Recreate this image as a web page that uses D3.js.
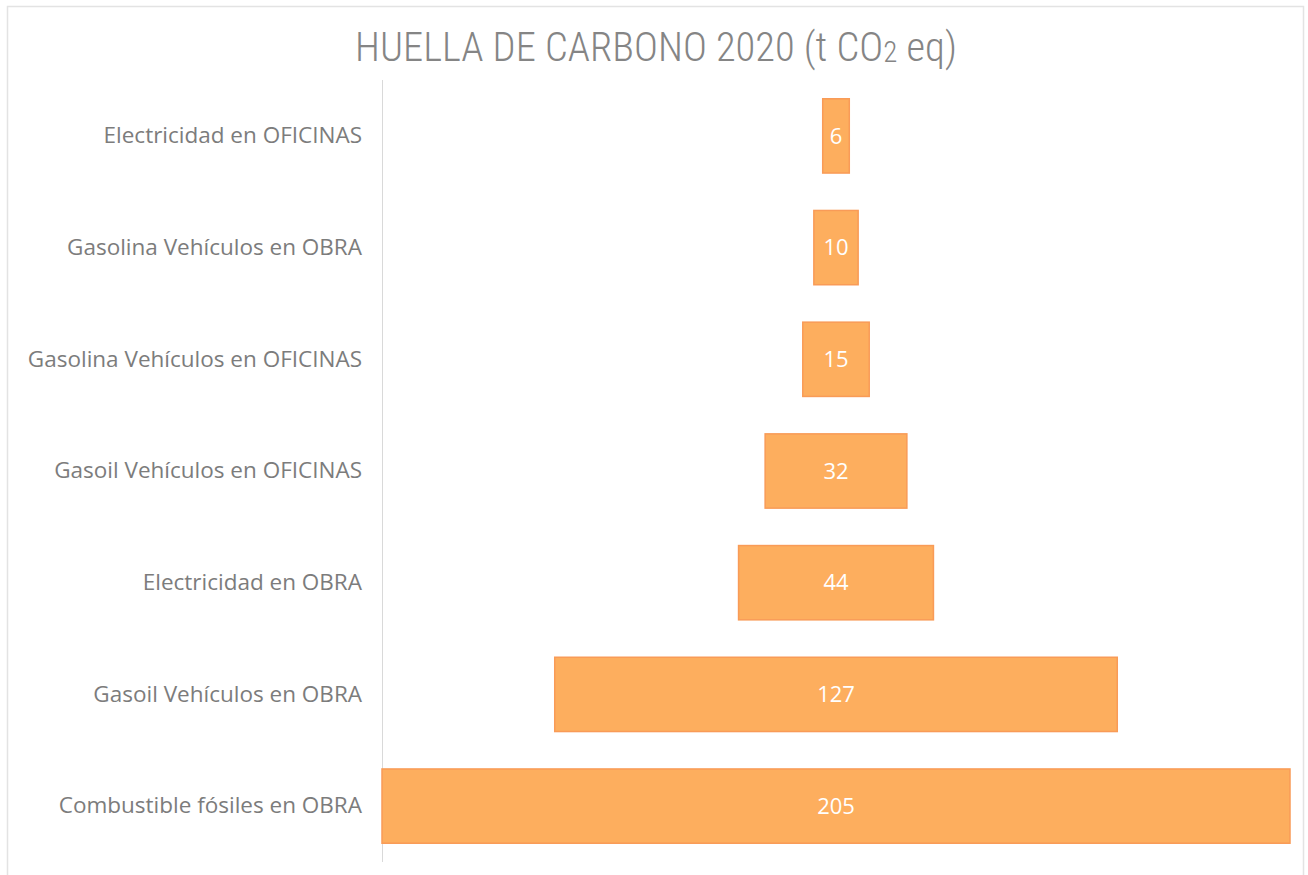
<!DOCTYPE html>
<html>
<head>
<meta charset="utf-8">
<script src="https://cdn.jsdelivr.net/npm/d3@7"></script>
<style>
  body { margin: 0; background: #fff; }
  svg { display: block; }
</style>
</head>
<body>
<div id="chart"></div>
<script>
var svgWidth = 1308;
var svgHeight = 875;

// data
var categories = [
  "Electricidad en OFICINAS",
  "Gasolina Vehículos en OBRA",
  "Gasolina Vehículos en OFICINAS",
  "Gasoil Vehículos en OFICINAS",
  "Electricidad en OBRA",
  "Gasoil Vehículos en OBRA",
  "Combustible fósiles en OBRA"
];
var values = [6, 10, 15, 32, 44, 127, 205];

var margin = { top: 80, right: 18, bottom: 13, left: 382 };
var width = svgWidth - margin.left - margin.right;
var height = svgHeight - margin.top - margin.bottom;

var svg = d3.select("#chart")
  .append("svg")
  .attr("width", svgWidth)
  .attr("height", svgHeight);

// chart frame
svg.append("rect")
  .attr("x", 7.5)
  .attr("y", 6.5)
  .attr("width", 1296)
  .attr("height", 880)
  .attr("fill", "#fff")
  .attr("stroke", "#e3e3e3")
  .attr("stroke-width", 1.5);

// title
var title = svg.append("text")
  .attr("x", 656)
  .attr("y", 61)
  .attr("text-anchor", "middle")
  .attr("fill", "#858585")
  .style("font-family", "Roboto, sans-serif")
  .style("font-size", "40.5px")
  .style("font-weight", "300")
  .style("font-stretch", "condensed");
title.append("tspan").text("HUELLA DE CARBONO 2020 (t CO");
title.append("tspan").style("font-size", "29px").attr("dy", 1).text("2");
title.append("tspan").attr("dy", -1).text(" eq)");

var chartGroup = svg.append("g")
  .attr("transform", `translate(${margin.left}, ${margin.top})`);

var yScale = d3.scaleBand()
  .domain(categories)
  .range([0, height])
  .paddingInner(0.335)
  .paddingOuter(0.168);

var xScale = d3.scaleLinear()
  .domain([0, d3.max(values)])
  .range([0, width]);

var center = width / 2;

// vertical axis line
chartGroup.append("line")
  .attr("x1", 0.5)
  .attr("x2", 0.5)
  .attr("y1", 0)
  .attr("y2", height)
  .attr("stroke", "#d9d9d9")
  .attr("stroke-width", 1);

// category labels
var leftAxis = d3.axisLeft(yScale).tickSize(0).tickPadding(20);
var yAxis = chartGroup.append("g").call(leftAxis);
yAxis.select(".domain").remove();
yAxis.selectAll("text")
  .attr("fill", "#7c7c7c")
  .style("font-family", "'Open Sans', sans-serif")
  .style("font-size", "22.5px");

// funnel bars
chartGroup.selectAll("rect.bar")
  .data(values)
  .enter()
  .append("rect")
  .attr("class", "bar")
  .attr("x", d => center - xScale(d) / 2)
  .attr("y", (d, i) => yScale(categories[i]))
  .attr("width", d => xScale(d))
  .attr("height", yScale.bandwidth())
  .attr("fill", "#fdae5e")
  .attr("stroke", "#f99b57")
  .attr("stroke-width", 1.5);

// value labels
chartGroup.selectAll("text.val")
  .data(values)
  .enter()
  .append("text")
  .attr("class", "val")
  .attr("x", center)
  .attr("y", (d, i) => yScale(categories[i]) + yScale.bandwidth() / 2)
  .attr("dy", "0.35em")
  .attr("text-anchor", "middle")
  .attr("fill", "#fff")
  .style("font-family", "'Open Sans', sans-serif")
  .style("font-size", "22px")
  .text(d => d);
</script>
</body>
</html>
